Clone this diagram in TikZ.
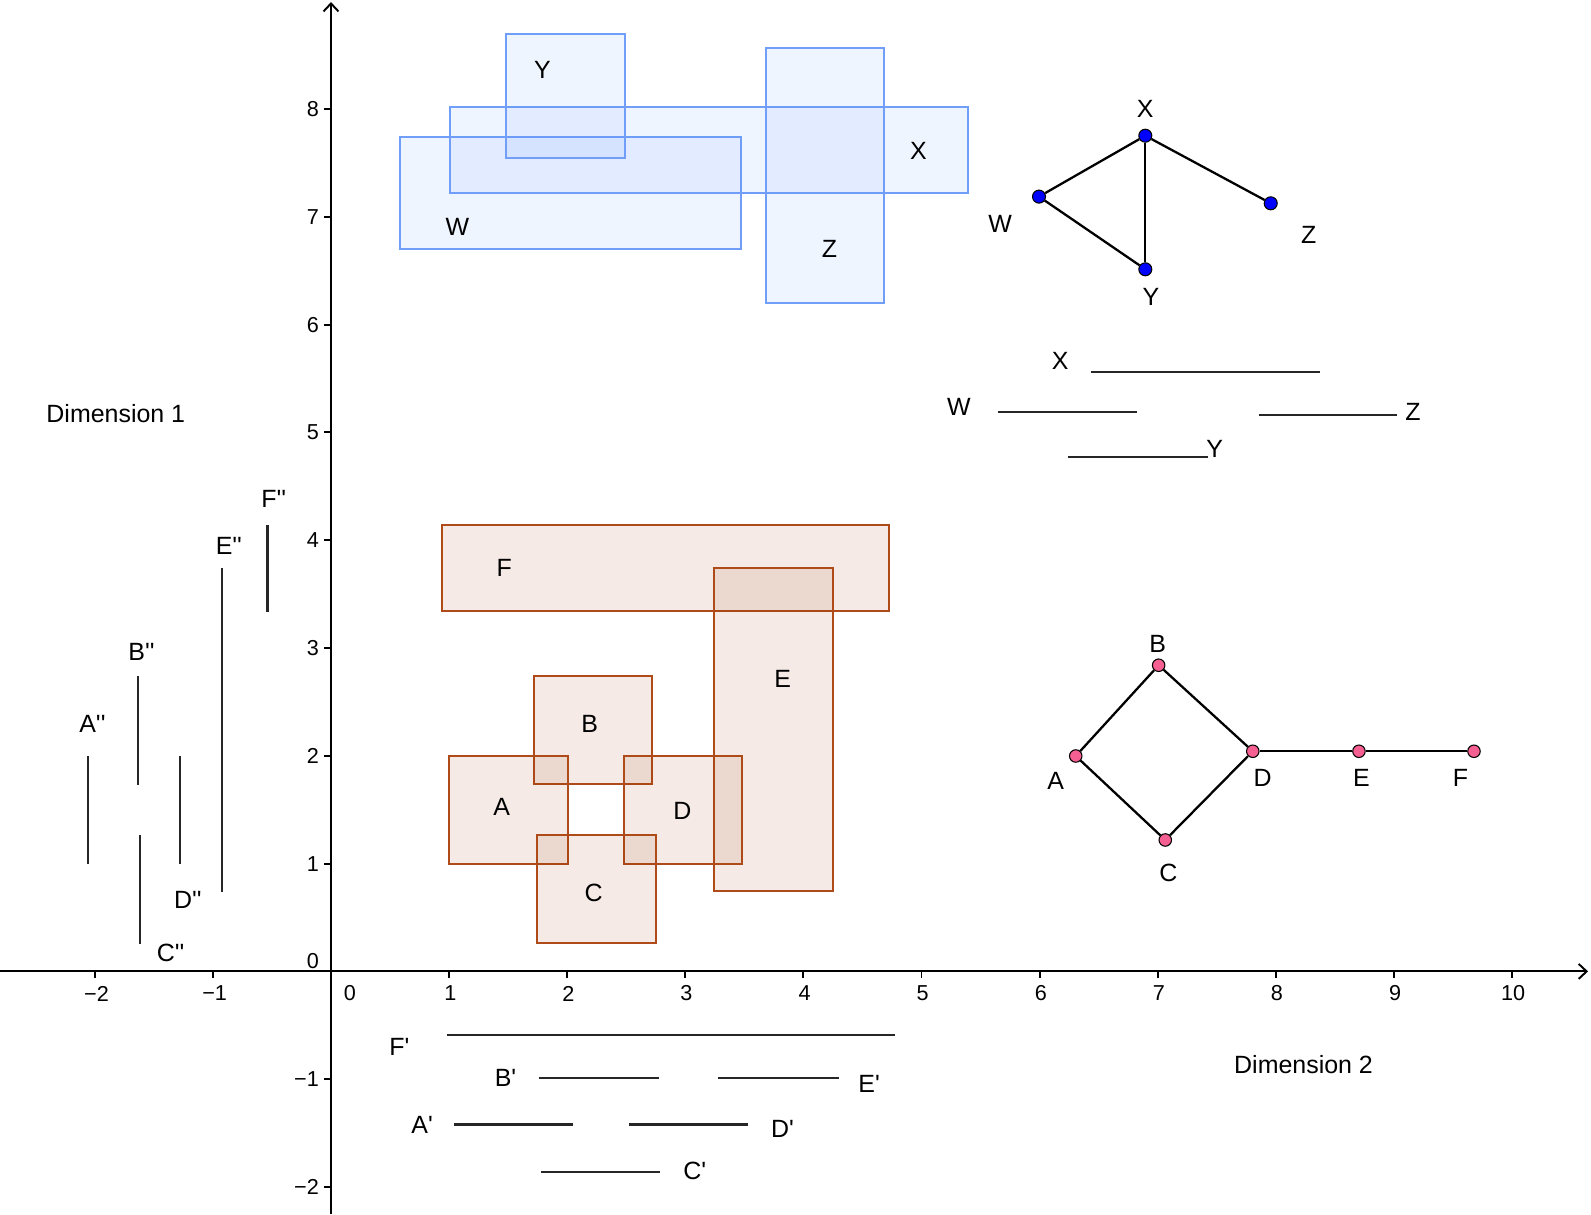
\documentclass[tikz,border=0pt]{standalone}
\usepackage{fontspec}
\newfontfamily\lab{Liberation Sans}
\usetikzlibrary{arrows.meta}
\definecolor{bluefill}{RGB}{102,153,255}
\definecolor{blueline}{RGB}{112,158,248}
\definecolor{brownfill}{RGB}{153,51,0}
\definecolor{brownline}{RGB}{175,75,25}
\definecolor{pinkpt}{RGB}{245,95,145}
\definecolor{bluept}{RGB}{0,0,255}
\begin{document}
\begin{tikzpicture}[x=2.362cm,y=2.156cm,
  lbl/.style={font=\lab\fontsize{14.2}{16}\selectfont, inner sep=0pt},
  ticklbl/.style={font=\lab\fontsize{12.3}{14}\selectfont, inner sep=0pt},
  axisline/.style={line width=1.1pt, -{Straight Barb[length=1.6mm,width=3mm]}},
  tickmark/.style={line width=1.1pt},
  bluebox/.style={draw=blueline, line width=1.1pt, fill=bluefill, fill opacity=0.1},
  brownbox/.style={draw=brownline, line width=1.1pt, fill=brownfill, fill opacity=0.1},
  interval/.style={line width=1.2pt, draw=black!85},
  edge/.style={line width=1.3pt, draw=black},
  bpt/.style={circle, draw=black, line width=0.6pt, fill=bluept, minimum size=0.26cm, inner sep=0pt},
  ppt/.style={circle, draw=black, line width=0.6pt, fill=pinkpt, minimum size=0.25cm, inner sep=0pt}
]
\useasboundingbox (-2.8027,-2.2505) rectangle (10.6689,9.0111);

% axes
\coordinate (xs) at (-2.8027,0);
\coordinate (xe) at (10.644,0);
\coordinate (ys) at (0,-2.2505);
\coordinate (ye) at (0,8.992);
\draw[axisline] (xs) -- (xe);
\draw[axisline] (ys) -- (ye);
\foreach \i in {-2,-1,1,2,3,4,5,6,7,8,9,10} \draw[tickmark] (\i,0) -- (\i,-0.065);
\foreach \j in {-2,-1,0,1,2,3,4,5,6,7,8} \draw[tickmark] (0,\j) -- (-0.059,\j);
% x tick labels
\node[ticklbl] (txm2) at (-1.985,-0.205) {−2};
\node[ticklbl] (txm1) at (-0.985,-0.205) {−1};
\node[ticklbl] (tx0) at (0.16,-0.205) {0};
\foreach \i in {1,2,3,4,5,6,7,8,9,10} \node[ticklbl] (tx\i) at (\i+0.01,-0.205) {\i};
% y tick labels
\node[ticklbl, anchor=east] (tym2) at (-0.1,-2) {−2};
\node[ticklbl, anchor=east] (tym1) at (-0.1,-1) {−1};
\node[ticklbl, anchor=east] (ty0) at (-0.1,0.10) {0};
\foreach \j in {1,2,3,4,5,6,7,8} \node[ticklbl, anchor=east] (ty\j) at (-0.1,\j) {\j};

% blue rectangles
\draw[bluebox] (0.587,6.698) rectangle (3.469,7.738);
\draw[bluebox] (1.008,7.218) rectangle (5.391,8.016);
\draw[bluebox] (1.482,7.543) rectangle (2.489,8.696);
\draw[bluebox] (3.686,6.198) rectangle (4.685,8.563);
\node[lbl] (rY) at (1.79,8.365) {Y};
\node[lbl] (rW) at (1.07,6.91) {W};
\node[lbl] (rX) at (4.975,7.615) {X};
\node[lbl] (rZ) at (4.22,6.70) {Z};

% brown rectangles
\draw[brownbox] (0.94,3.34) rectangle (4.727,4.141);
\draw[brownbox] (3.243,0.745) rectangle (4.248,3.739);
\draw[brownbox] (1.722,1.736) rectangle (2.721,2.740);
\draw[brownbox] (1.0,1.0) rectangle (2.004,1.998);
\draw[brownbox] (2.481,1.0) rectangle (3.483,1.998);
\draw[brownbox] (1.744,0.262) rectangle (2.749,1.265);
\node[lbl] (rF) at (1.467,3.739) {F};
\node[lbl] (rE) at (3.825,2.712) {E};
\node[lbl] (rB) at (2.19,2.30) {B};
\node[lbl] (rA) at (1.445,1.522) {A};
\node[lbl] (rD) at (2.975,1.488) {D};
\node[lbl] (rC) at (2.224,0.724) {C};

% blue graph
\node[bpt] (gX) at (6.895,7.752) {};
\node[bpt] (gW) at (5.995,7.187) {};
\node[bpt] (gZ) at (7.957,7.125) {};
\node[bpt] (gY) at (6.895,6.513) {};
\draw[edge] (gW) -- (gX);
\draw[edge] (gX) -- (gY);
\draw[edge] (gW) -- (gY);
\draw[edge] (gX) -- (gZ);
\node[lbl] (gXl) at (6.895,7.997) {X};
\node[lbl] (gWl) at (5.665,6.933) {W};
\node[lbl] (gYl) at (6.943,6.255) {Y};
\node[lbl] (gZl) at (8.278,6.834) {Z};

% pink graph
\node[ppt] (pA) at (6.306,1.998) {};
\node[ppt] (pB) at (7.008,2.840) {};
\node[ppt] (pC) at (7.064,1.219) {};
\node[ppt] (pD) at (7.805,2.042) {};
\node[ppt] (pE) at (8.704,2.042) {};
\node[ppt] (pF) at (9.678,2.042) {};
\draw[edge] (pA) -- (pB);
\draw[edge] (pB) -- (pD);
\draw[edge] (pA) -- (pC);
\draw[edge] (pC) -- (pD);
\draw[edge] (pD) -- (pE);
\draw[edge] (pE) -- (pF);
\node[lbl] (pBl) at (7.0,3.037) {B};
\node[lbl] (pAl) at (6.136,1.769) {A};
\node[lbl] (pDl) at (7.889,1.797) {D};
\node[lbl] (pEl) at (8.724,1.797) {E};
\node[lbl] (pFl) at (9.563,1.797) {F};
\node[lbl] (pCl) at (7.091,0.915) {C};

% top-right intervals
\draw[interval] (6.438,5.561) -- (8.377,5.561);
\draw[interval] (5.645,5.187) -- (6.822,5.187);
\draw[interval] (7.857,5.158) -- (9.03,5.158);
\draw[interval] (6.242,4.772) -- (7.423,4.772);
\node[lbl] (iX) at (6.175,5.663) {X};
\node[lbl] (iW) at (5.317,5.235) {W};
\node[lbl] (iZ) at (9.162,5.193) {Z};
\node[lbl] (iY) at (7.483,4.849) {Y};

% bottom intervals
\draw[interval] (0.98,-0.589) -- (4.776,-0.589);
\draw[interval] (1.76,-0.987) -- (2.78,-0.987);
\draw[interval] (3.28,-0.987) -- (4.30,-0.987);
\draw[interval] (1.04,-1.42) -- (2.05,-1.42);
\draw[interval] (2.525,-1.42) -- (3.53,-1.42);
\draw[interval] (1.78,-1.864) -- (2.787,-1.864);
\node[lbl] (bF) at (0.58,-0.70) {F'};
\node[lbl] (bB) at (1.478,-0.99) {B'};
\node[lbl] (bE) at (4.557,-1.045) {E'};
\node[lbl] (bA) at (0.772,-1.42) {A'};
\node[lbl] (bD) at (3.823,-1.458) {D'};
\node[lbl] (bC) at (3.08,-1.852) {C'};

% left intervals
\draw[interval] (-2.055,0.995) -- (-2.055,1.995);
\draw[interval] (-1.637,1.729) -- (-1.637,2.738);
\draw[interval] (-1.615,0.252) -- (-1.615,1.265);
\draw[interval] (-1.275,0.995) -- (-1.275,1.995);
\draw[interval] (-0.92,0.74) -- (-0.92,3.74);
\draw[interval] (-0.538,3.337) -- (-0.538,4.139);
\node[lbl] (lA) at (-2.02,2.30) {A''};
\node[lbl] (lB) at (-1.605,2.96) {B''};
\node[lbl] (lC) at (-1.357,0.17) {C''};
\node[lbl] (lD) at (-1.212,0.665) {D''};
\node[lbl] (lE) at (-0.865,3.95) {E''};
\node[lbl] (lF) at (-0.485,4.38) {F''};

% axis titles
\node[lbl] (dim1) at (-1.822,5.175) {Dimension 1};
\node[lbl] (dim2) at (8.235,-0.866) {Dimension 2};
\end{tikzpicture}
\end{document}
